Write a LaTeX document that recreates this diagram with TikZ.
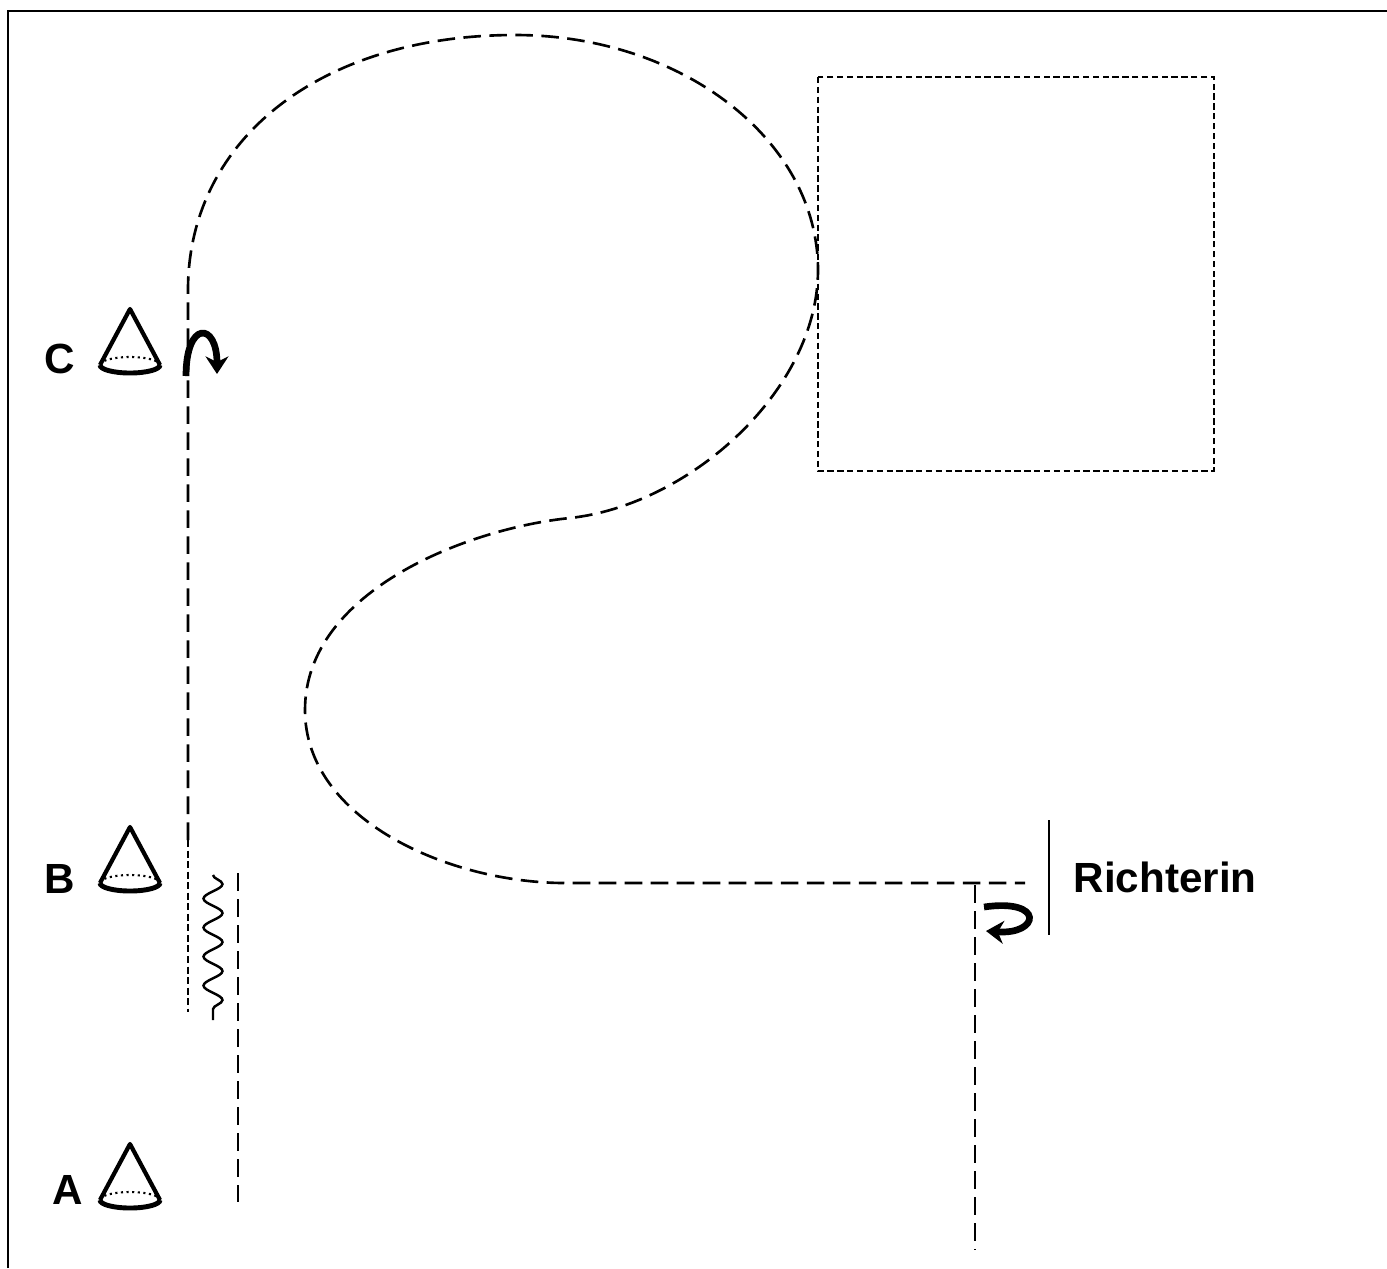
\documentclass[tikz,border=0pt]{standalone}
\usepackage{fontspec}
\setmainfont{Liberation Sans}
\usetikzlibrary{arrows.meta, snakes}

\tikzset{
  track/.style={line width=0.75pt, dash pattern=on 5pt off 2.4pt},
  shorttrack/.style={line width=0.75pt, dash pattern=on 2pt off 1pt},
  zone/.style={line width=0.7pt, dash pattern=on 1.8pt off 1pt},
  turn/.style={line width=1.9pt, -{Stealth[length=5pt,width=6.5pt]}},
  letter/.style={font=\fontsize{12}{14}\selectfont\bfseries, inner sep=0pt},
  pylon/.pic={
    \draw[line width=1.2pt, line join=round] (-30,0) -- (0,-56) -- (30,0);
    \draw[line width=1.4pt] (-30,0) arc[start angle=180,end angle=360,x radius=3mm,y radius=0.8mm];
    \draw[densely dotted, line width=0.6pt] (30,0) arc[start angle=0,end angle=180,x radius=3mm,y radius=0.8mm];
  }
}

\begin{document}
\begin{tikzpicture}[x=0.1mm, y=-0.1mm]
\useasboundingbox (0,0) rectangle (1387,1268);
% frame
\draw[line width=0.7pt] (8,1268) -- (8,11) -- (1387,11);
% course
\draw[track] (188,840) -- (188,290)
  .. controls (188,140) and (320,35) .. (515,35)
  .. controls (682,35) and (818,140) .. (818,270)
  .. controls (818,390) and (690,505) .. (570,518)
  .. controls (470,528) and (305,590) .. (305,710)
  .. controls (305,820) and (450,883) .. (565,883)
  -- (1025,883);
\draw[shorttrack] (188,840) -- (188,1012);
\draw[track] (238,873) -- (238,1202);
\draw[track] (975,885) -- (975,1250);
\draw[line width=0.7pt, snake=snake, segment amplitude=0.95mm, segment length=2.9mm] (213,875) -- (213,1020);
\draw[line width=0.7pt] (1049,820) -- (1049,935);
\draw[zone] (818,77) rectangle (1214,471);
% cones
\pic at (130,365) {pylon};
\pic at (130,883) {pylon};
\pic at (130,1200) {pylon};
\node[letter] (labC) at (60,359) {C};
\node[letter] (labB) at (60,879) {B};
\node[letter] (labA) at (68,1190) {A};
\node[letter, anchor=west] (judge) at (1073,877) {Richterin};
% turns
\draw[turn] (186,376) .. controls (186,320) and (217,322) .. (217,374);
\draw[turn] (984,907) .. controls (1045,898) and (1040,935) .. (986,931);
\end{tikzpicture}
\end{document}
